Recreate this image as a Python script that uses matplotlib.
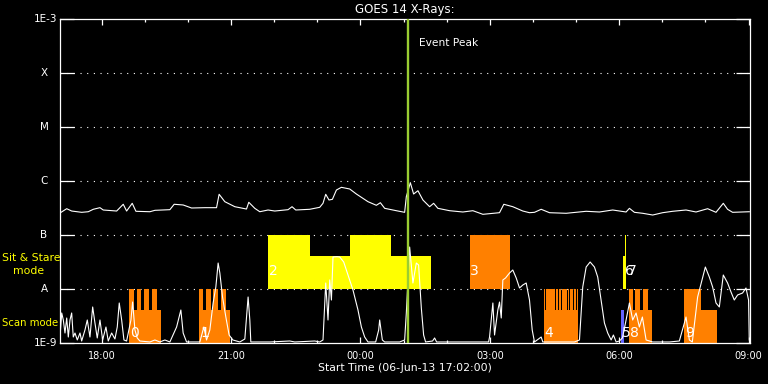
import numpy as np
import matplotlib
matplotlib.use("Agg")
import matplotlib.pyplot as plt
from matplotlib.ticker import FixedLocator, NullLocator

# ---------------- data ----------------
# times are hours since 00:00 on 06-Jun-13 (values > 24 are on 07-Jun)
t_start = 17 + 2 / 60
t_end = 33 + 2 / 60
event_peak = 25.11

# GOES 1-8 A channel (log10 flux, W/m^2)
long_t = [17.057, 17.189, 17.304, 17.536, 17.689, 17.805, 17.960, 18.036, 18.347, 18.500,
          18.578, 18.708, 18.794, 19.118, 19.234, 19.581, 19.681, 19.889, 20.084, 20.392,
          20.663, 20.723, 20.855, 21.087, 21.358, 21.411, 21.550, 21.666, 21.858, 22.014,
          22.322, 22.414, 22.500, 22.824, 23.056, 23.132, 23.195, 23.271, 23.350, 23.443,
          23.558, 23.751, 23.906, 24.175, 24.369, 24.462, 24.562, 24.833, 25.025, 25.064,
          25.157, 25.233, 25.333, 25.449, 25.604, 25.697, 25.796, 26.067, 26.375, 26.607,
          26.839, 27.225, 27.325, 27.533, 27.765, 27.920, 28.036, 28.191, 28.384, 28.770,
          29.234, 29.542, 29.850, 30.160, 30.237, 30.353, 30.545, 30.777, 31.008, 31.240,
          31.550, 31.782, 32.051, 32.245, 32.414, 32.513, 32.630, 33.017]
long_log = [-6.580, -6.513, -6.556, -6.580, -6.569, -6.524, -6.494, -6.537, -6.556, -6.431,
            -6.556, -6.413, -6.561, -6.569, -6.543, -6.531, -6.431, -6.444, -6.500, -6.494,
            -6.494, -6.246, -6.383, -6.476, -6.519, -6.394, -6.506, -6.569, -6.537, -6.556,
            -6.531, -6.476, -6.537, -6.524, -6.487, -6.413, -6.246, -6.352, -6.339, -6.167,
            -6.117, -6.148, -6.241, -6.383, -6.450, -6.402, -6.506, -6.550, -6.580, -6.291,
            -6.031, -6.241, -6.180, -6.352, -6.476, -6.413, -6.506, -6.550, -6.574, -6.550,
            -6.617, -6.587, -6.431, -6.476, -6.556, -6.587, -6.580, -6.524, -6.587, -6.598,
            -6.561, -6.574, -6.537, -6.574, -6.506, -6.580, -6.598, -6.630, -6.587, -6.561,
            -6.537, -6.574, -6.513, -6.580, -6.413, -6.524, -6.580, -6.569]

# GOES 0.5-4 A channel (log10 flux, W/m^2)
short_t = [17.045, 17.073, 17.110, 17.149, 17.189, 17.226, 17.265, 17.304, 17.341, 17.381,
           17.434, 17.497, 17.536, 17.612, 17.666, 17.728, 17.791, 17.844, 17.897, 17.960,
           18.022, 18.099, 18.152, 18.231, 18.307, 18.361, 18.407, 18.463, 18.516, 18.578,
           18.678, 18.717, 18.771, 18.824, 18.886, 19.118, 19.234, 19.350, 19.466, 19.581,
           19.737, 19.790, 19.836, 19.889, 19.968, 20.276, 20.369, 20.431, 20.508, 20.584,
           20.647, 20.700, 20.740, 20.802, 20.879, 20.955, 21.041, 21.203, 21.319, 21.395,
           21.435, 21.458, 21.666, 21.898, 22.361, 22.477, 22.940, 23.056, 23.132, 23.195,
           23.248, 23.288, 23.327, 23.364, 23.457, 23.519, 23.612, 23.751, 23.827, 23.943,
           24.022, 24.098, 24.175, 24.353, 24.423, 24.446, 24.508, 24.562, 24.909, 25.025,
           25.064, 25.141, 25.217, 25.296, 25.349, 25.412, 25.465, 25.511, 25.673, 25.720,
           25.766, 25.951, 26.299, 26.531, 26.971, 26.994, 27.071, 27.110, 27.186, 27.225,
           27.265, 27.302, 27.365, 27.457, 27.533, 27.612, 27.689, 27.765, 27.844, 27.920,
           27.983, 28.036, 28.191, 28.229, 28.615, 28.963, 29.079, 29.155, 29.234, 29.326,
           29.426, 29.502, 29.581, 29.658, 29.734, 29.813, 29.866, 29.929, 30.005, 30.075,
           30.160, 30.237, 30.313, 30.392, 30.468, 30.538, 30.624, 30.777, 30.932, 31.163,
           31.395, 31.550, 31.627, 31.696, 31.819, 31.921, 31.998, 32.090, 32.167, 32.245,
           32.322, 32.414, 32.514, 32.593, 32.669, 32.746, 32.861, 32.940, 33.000, 33.016]
short_log = [-8.759, -8.444, -8.574, -8.815, -8.537, -8.889, -8.574, -8.444, -8.889, -8.815,
             -8.944, -8.815, -8.963, -8.759, -8.574, -8.889, -8.333, -8.630, -8.907, -8.574,
             -8.944, -8.704, -8.963, -8.815, -8.926, -8.704, -8.259, -8.574, -8.944, -8.963,
             -8.574, -8.241, -8.759, -8.907, -8.963, -8.981, -8.944, -8.981, -8.944, -8.981,
             -8.704, -8.537, -8.389, -8.815, -8.981, -8.981, -8.704, -8.944, -8.759, -8.259,
             -7.963, -7.519, -7.704, -8.148, -8.519, -8.852, -8.944, -8.981, -8.926, -8.148,
             -8.574, -8.981, -8.981, -8.981, -8.963, -8.981, -8.963, -8.981, -8.944, -7.889,
             -8.574, -7.833, -8.204, -7.407, -7.402, -7.407, -7.500, -7.833, -8.019, -8.389,
             -8.704, -8.889, -8.981, -8.981, -8.759, -8.574, -8.944, -8.981, -8.981, -8.944,
             -8.444, -7.222, -7.889, -7.519, -7.556, -8.352, -8.852, -8.981, -8.963, -8.907,
             -8.981, -8.981, -8.981, -8.981, -8.981, -8.889, -8.259, -8.852, -8.389, -8.241,
             -8.537, -7.833, -7.796, -7.704, -7.648, -7.796, -7.981, -7.926, -7.889, -8.204,
             -8.759, -8.981, -8.889, -8.981, -8.981, -8.981, -8.944, -7.963, -7.593, -7.500,
             -7.593, -7.778, -8.204, -8.630, -8.815, -8.944, -8.852, -8.981, -8.963, -8.907,
             -8.574, -8.259, -8.574, -8.444, -8.704, -8.519, -8.944, -8.981, -8.981, -8.981,
             -8.963, -8.519, -8.944, -8.981, -8.148, -7.833, -7.593, -7.778, -7.963, -8.259,
             -8.333, -7.741, -7.889, -8.056, -8.204, -8.111, -8.074, -7.981, -8.204, -8.944]

# observation blocks: label, colour, row ('scan' or 'sit'), low spans, tall spans
ORANGE = "#FF8000"
YELLOW = "#FFFF00"
BLUE = "#6464FF"
obs_label = ["0", "1", "2", "3", "4", "5", "6", "7", "8", "9"]
obs_color = [ORANGE, ORANGE, YELLOW, ORANGE, ORANGE, BLUE, YELLOW, YELLOW, ORANGE, ORANGE]
obs_row = ["scan", "scan", "sit", "sit", "scan", "scan", "sit", "sit", "scan", "scan"]
obs_low = [
    [(18.632, 19.366)],
    [(20.253, 20.971)],
    [(21.858, 25.643)],
    [],
    [(28.245, 29.055)],
    [(30.051, 30.114)],
    [],
    [(30.098, 30.160)],
    [(30.221, 30.763)],
    [(31.511, 32.268)],
]
obs_tall = [
    [(18.632, 18.748), (18.810, 18.910), (18.979, 19.094), (19.157, 19.273)],
    [(20.253, 20.353), (20.415, 20.524), (20.584, 20.700), (20.763, 20.878)],
    [(21.858, 22.824), (23.751, 24.717)],
    [(26.531, 27.473)],
    [(28.245, 28.291), (28.314, 28.523), (28.546, 28.585), (28.608, 28.645),
     (28.668, 28.784), (28.808, 28.847), (28.870, 28.924), (28.947, 28.993),
     (29.016, 29.055)],
    [],
    [(30.137, 30.160)],
    [],
    [(30.221, 30.313), (30.376, 30.485), (30.561, 30.670)],
    [(31.511, 31.898)],
]
label_x = [18.66, 20.28, 21.88, 26.55, 28.27, 30.06, 30.14, 30.19, 30.24, 31.53]

# row geometry in log10 flux: bottom, low top, tall top
row_levels = {"scan": (-9.0, -8.389, -8.0), "sit": (-8.0, -7.389, -7.0)}
row_label_level = {"scan": -8.82, "sit": -7.67}

y_tick_vals = [-9, -8, -7, -6, -5, -4, -3]
y_tick_text = ["1E-9", "A", "B", "C", "M", "X", "1E-3"]
x_major = [18, 21, 24, 27, 30, 33]
x_major_text = ["18:00", "21:00", "00:00", "03:00", "06:00", "09:00"]
x_minor = list(range(18, 34))

# ---------------- plot ----------------
W, H = 768, 384
fig = plt.figure(figsize=(W / 100, H / 100), dpi=100, facecolor="black")
ax = fig.add_axes([60 / W, 41 / H, 690 / W, 324 / H], facecolor="black")
ax.set_yscale("log")
ax.set_xlim(t_start, t_end)
ax.set_ylim(1e-9, 1e-3)

# observation bars
for i in range(len(obs_label)):
    b, lo, hi = row_levels[obs_row[i]]
    for s, e in obs_low[i]:
        ax.bar(s, 10 ** lo - 10 ** b, width=e - s, bottom=10 ** b, align="edge",
               color=obs_color[i], linewidth=0, zorder=2)
    for s, e in obs_tall[i]:
        ax.bar(s, 10 ** hi - 10 ** b, width=e - s, bottom=10 ** b, align="edge",
               color=obs_color[i], linewidth=0, zorder=2)

# grid lines
for v in y_tick_vals[1:-1]:
    ax.axhline(10 ** v, color="white", lw=0.8, linestyle=(0, (1, 5)), zorder=1)

# curves
ax.plot(long_t, 10 ** np.array(long_log), color="white", lw=0.8, zorder=3)
ax.plot(short_t, 10 ** np.array(short_log), color="white", lw=0.8, zorder=3)

# labels on observation blocks
for i in range(len(obs_label)):
    ax.text(label_x[i], 10 ** row_label_level[obs_row[i]], obs_label[i], color="white",
            fontsize=10, ha="left", va="center", zorder=4)

# event peak
ax.axvline(event_peak, color="#9ACD32", lw=1.7, zorder=5)
ax.annotate("Event Peak", xy=(event_peak, 10 ** -3.44), xytext=(7.5, 0),
            textcoords="offset points", color="white", fontsize=7.7, va="center", ha="left")

# axes styling
for sp in ax.spines.values():
    sp.set_color("white")
    sp.set_linewidth(0.9)
ax.yaxis.set_major_locator(FixedLocator([10 ** v for v in y_tick_vals]))
ax.yaxis.set_minor_locator(NullLocator())
ax.set_yticklabels([])
ax.tick_params(axis="y", which="major", direction="in", length=10, width=0.9,
               color="white", left=True, right=True)
ax.set_xticks(x_major)
ax.set_xticklabels(x_major_text)
ax.xaxis.set_minor_locator(FixedLocator(x_minor))
ax.tick_params(axis="x", which="major", direction="in", length=4.3, width=0.9,
               color="white", top=True, bottom=True, labelcolor="white",
               labelsize=7, pad=6)
ax.tick_params(axis="x", which="minor", direction="in", length=2.5, width=0.9,
               color="white", top=True, bottom=True)

# y labels as text
ytr = ax.get_yaxis_transform()
for v, s in zip(y_tick_vals, y_tick_text):
    if s.startswith("1E"):
        ax.text(-0.0045, 10 ** v, s, transform=ytr, color="white", fontsize=7.5,
                ha="right", va="center")
    else:
        ax.text(-0.0232, 10 ** v, s, transform=ytr, color="white", fontsize=7.5,
                ha="center", va="center")

fig.text(405 / W, 1 - 10 / H, "GOES 14 X-Rays:", color="white", fontsize=8.5,
         ha="center", va="center")
fig.text(405 / W, 1 - 368 / H, "Start Time (06-Jun-13 17:02:00)", color="white",
         fontsize=7.8, ha="center", va="center")
fig.text(2 / W, 1 - 258 / H, "Sit & Stare", color="yellow", fontsize=7.8,
         ha="left", va="center")
fig.text(13 / W, 1 - 271 / H, "mode", color="yellow", fontsize=7.8,
         ha="left", va="center")
fig.text(2 / W, 1 - 323 / H, "Scan mode", color="yellow", fontsize=7.3,
         ha="left", va="center")

fig.savefig("out.png", dpi=100, facecolor="black")
